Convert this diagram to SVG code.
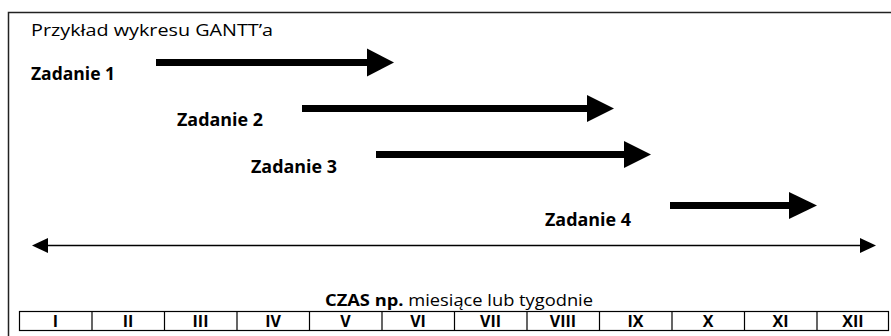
<svg xmlns="http://www.w3.org/2000/svg" width="891" height="336" viewBox="0 0 891 336">
<style>
.t{font-family:"Open Sans","Liberation Sans",sans-serif;fill:#000}
.b{font-weight:bold;font-size:18px}
.bar{stroke:#000;stroke-width:7;fill:none}
.head{fill:#000}
.cell{font-family:"Open Sans","Liberation Sans",sans-serif;font-weight:bold;font-size:16px;text-anchor:middle}
</style>
<rect width="891" height="336" fill="#fff"/>
<path d="M8.5,336 V12.5 H891" fill="none" stroke="#222" stroke-width="1.5"/>
<text class="t" x="31" y="36" font-size="16.5" textLength="242" lengthAdjust="spacingAndGlyphs">Przykład wykresu GANTT’a</text>
<g id="task1"><text class="t b" x="31" y="80" textLength="84" lengthAdjust="spacingAndGlyphs">Zadanie 1</text></g>
<g id="task2"><text class="t b" x="177" y="126" textLength="86" lengthAdjust="spacingAndGlyphs">Zadanie 2</text></g>
<g id="task3"><text class="t b" x="251" y="173" textLength="86" lengthAdjust="spacingAndGlyphs">Zadanie 3</text></g>
<g id="task4"><text class="t b" x="545" y="226" textLength="86" lengthAdjust="spacingAndGlyphs">Zadanie 4</text></g>
<g id="connectors">
<line class="bar" x1="156" y1="62.5" x2="368" y2="62.5"/>
<polygon class="head" points="367,48.5 394,62.5 367,76.5"/>
<line class="bar" x1="302" y1="108.5" x2="588" y2="108.5"/>
<polygon class="head" points="587,95 614,108.5 587,122"/>
<line class="bar" x1="376" y1="154.5" x2="625" y2="154.5"/>
<polygon class="head" points="624,141 651,154.5 624,168"/>
<line class="bar" x1="670" y1="205.5" x2="790" y2="205.5"/>
<polygon class="head" points="789,192 817,205.5 789,219"/>
<line x1="46" y1="245.5" x2="862" y2="245.5" stroke="#000" stroke-width="1.5"/>
<polygon class="head" points="32,245.5 48,238 48,253"/>
<polygon class="head" points="876,245.5 860,238 860,253"/>
</g>
<text class="t" x="325" y="306" font-size="16.5" textLength="268" lengthAdjust="spacingAndGlyphs"><tspan font-weight="bold">CZAS np</tspan><tspan font-weight="bold">.</tspan> miesiące lub tygodnie</text>
<g id="timeline">
<rect x="19.5" y="311.5" width="869" height="19" fill="none" stroke="#000" stroke-width="1.2"/>
<path d="M92,311.5V330.5M164.5,311.5V330.5M237,311.5V330.5M309.5,311.5V330.5M382,311.5V330.5M454.5,311.5V330.5M527,311.5V330.5M599.5,311.5V330.5M672,311.5V330.5M744.5,311.5V330.5M817,311.5V330.5" stroke="#000" stroke-width="1.2"/>
<text class="cell" x="55.5" y="326.5">I</text>
<text class="cell" x="128" y="326.5">II</text>
<text class="cell" x="200.5" y="326.5">III</text>
<text class="cell" x="273" y="326.5">IV</text>
<text class="cell" x="345.5" y="326.5">V</text>
<text class="cell" x="418" y="326.5">VI</text>
<text class="cell" x="490.5" y="326.5">VII</text>
<text class="cell" x="563" y="326.5">VIII</text>
<text class="cell" x="635.5" y="326.5">IX</text>
<text class="cell" x="708" y="326.5">X</text>
<text class="cell" x="780.5" y="326.5">XI</text>
<text class="cell" x="853" y="326.5">XII</text>
</g>
</svg>
